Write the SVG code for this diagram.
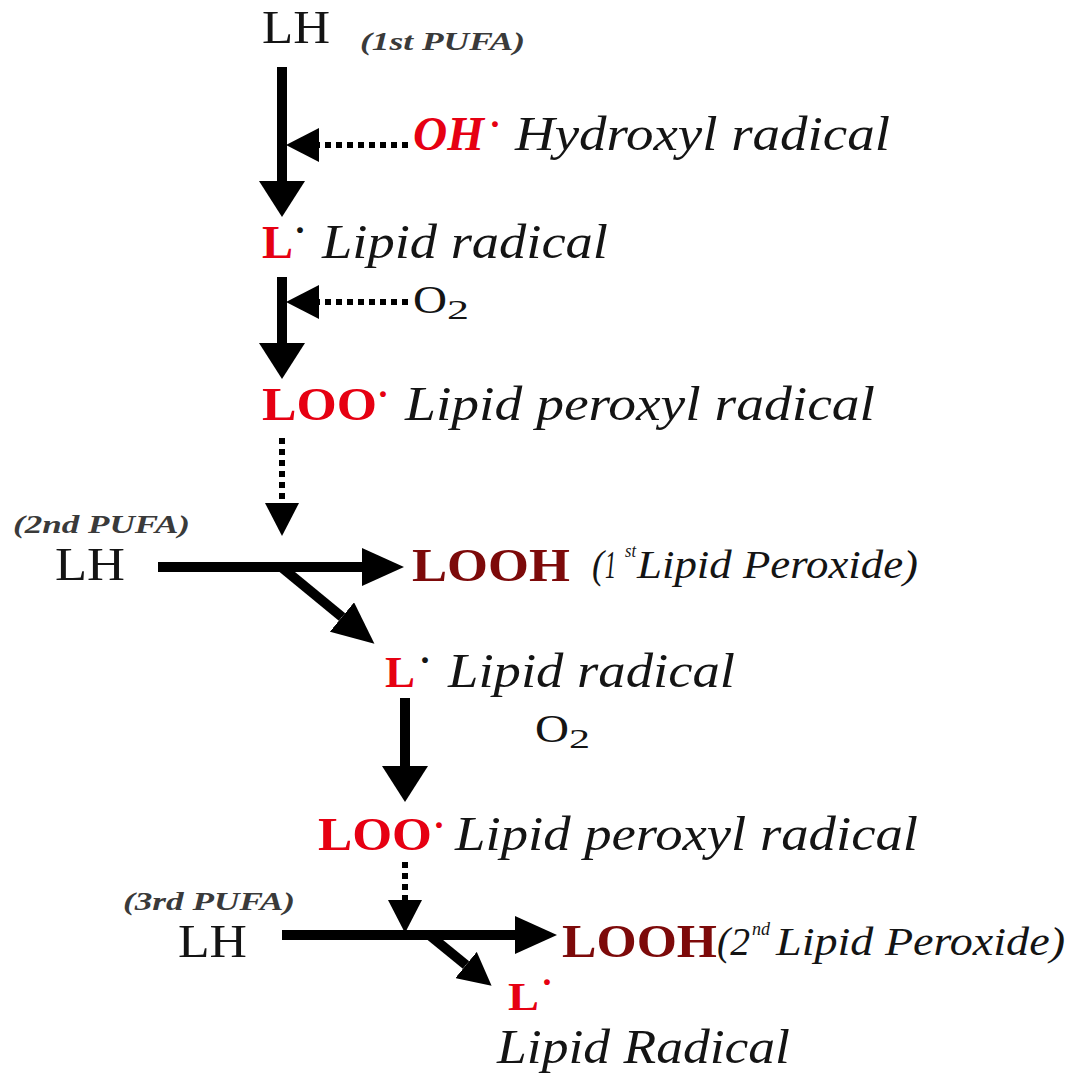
<svg xmlns="http://www.w3.org/2000/svg" width="1069" height="1075" viewBox="0 0 1069 1075">
<style>
text{font-family:"Liberation Serif","Times New Roman",serif}
.blk{fill:#141414}
.red{fill:#e60012;font-weight:bold}
.dred{fill:#7d0a0a;font-weight:bold}
.it{font-style:italic}
.pufa{font-size:26px;font-style:italic;font-weight:bold;fill:#3a3a3a}
.big{font-size:47px}
.lbl{font-size:48px;font-style:italic;fill:#141414}
.sub{font-size:40px;font-style:italic;fill:#141414}
.sup{font-size:18px}
.dot{font-size:36px;font-weight:bold;text-anchor:middle}
.solid{stroke:#000;stroke-width:10;fill:none}
.dotted{stroke:#000;stroke-width:6;stroke-dasharray:6 5;fill:none}
</style>
<defs>
<marker id="head" markerUnits="userSpaceOnUse" viewBox="0 0 36 46" refX="0" refY="23" markerWidth="36" markerHeight="46" orient="auto"><path d="M0,0 L36,23 L0,46 z" fill="#000"/></marker>
<marker id="headH" markerUnits="userSpaceOnUse" viewBox="0 0 42 38" refX="0" refY="19" markerWidth="42" markerHeight="38" orient="auto"><path d="M0,0 L42,19 L0,38 z" fill="#000"/></marker>
<marker id="headS" markerUnits="userSpaceOnUse" viewBox="0 0 33 34" refX="0" refY="17" markerWidth="33" markerHeight="34" orient="auto"><path d="M0,0 L33,17 L0,34 z" fill="#000"/></marker>
</defs>
<rect width="1069" height="1075" fill="#fff"/>

<g id="connectors">
<line class="solid" x1="282" y1="67" x2="282" y2="181" marker-end="url(#head)"/>
<line class="dotted" x1="408" y1="145" x2="319" y2="145" marker-end="url(#headS)"/>
<line class="solid" x1="282" y1="277" x2="282" y2="343" marker-end="url(#head)"/>
<line class="dotted" x1="408" y1="302" x2="319" y2="302" marker-end="url(#headS)"/>
<line class="dotted" x1="282" y1="438" x2="282" y2="503" marker-end="url(#headS)"/>
<line class="solid" x1="158" y1="567" x2="362" y2="567" marker-end="url(#headH)"/>
<line class="solid" x1="280" y1="566" x2="342" y2="617" marker-end="url(#headH)"/>
<line class="solid" x1="405" y1="698" x2="405" y2="766" marker-end="url(#head)"/>
<line class="dotted" x1="405" y1="862" x2="405" y2="900" marker-end="url(#headS)"/>
<line class="solid" x1="282" y1="935" x2="515" y2="935" marker-end="url(#headH)"/>
<line class="solid" x1="428" y1="934" x2="466" y2="965" marker-end="url(#headS)"/>
</g>

<g id="lh1">
<text class="blk big" x="262" y="43" textLength="68" lengthAdjust="spacingAndGlyphs">LH</text>
<text class="pufa" x="360" y="50" textLength="165" lengthAdjust="spacingAndGlyphs">(1st PUFA)</text>
</g>

<g id="oh">
<text class="red it" x="413" y="150" font-size="48" textLength="71" lengthAdjust="spacingAndGlyphs">OH</text>
<text class="red dot" x="495" y="136">·</text>
<text class="lbl" x="515" y="150" textLength="375" lengthAdjust="spacingAndGlyphs">Hydroxyl radical</text>
</g>

<g id="l1">
<text class="red" x="262" y="258" font-size="46" textLength="31" lengthAdjust="spacingAndGlyphs">L</text>
<text class="blk dot" x="300" y="242">·</text>
<text class="lbl" x="322" y="258" textLength="286" lengthAdjust="spacingAndGlyphs">Lipid radical</text>
</g>

<g id="o2a">
<text class="blk" x="413" y="313" font-size="40" textLength="34" lengthAdjust="spacingAndGlyphs">O</text>
<text class="blk" x="447" y="319" font-size="27" textLength="22" lengthAdjust="spacingAndGlyphs">2</text>
</g>

<g id="loo1">
<text class="red" x="262" y="420" font-size="47" textLength="115" lengthAdjust="spacingAndGlyphs">LOO</text>
<text class="red dot" x="383" y="406">·</text>
<text class="lbl" x="405" y="420" textLength="470" lengthAdjust="spacingAndGlyphs">Lipid peroxyl radical</text>
</g>

<g id="lh2">
<text class="pufa" x="13" y="533" textLength="177" lengthAdjust="spacingAndGlyphs">(2nd PUFA)</text>
<text class="blk big" x="55" y="580" textLength="70" lengthAdjust="spacingAndGlyphs">LH</text>
</g>

<g id="looh1">
<text class="dred" x="412" y="581" font-size="47" textLength="158" lengthAdjust="spacingAndGlyphs">LOOH</text>
<text class="sub"><tspan x="592" y="578" textLength="12" lengthAdjust="spacingAndGlyphs">(</tspan><tspan x="605" y="578" textLength="11" lengthAdjust="spacingAndGlyphs">1</tspan><tspan class="sup" x="625" y="557" textLength="11" lengthAdjust="spacingAndGlyphs">st</tspan><tspan x="637" y="578" textLength="281" lengthAdjust="spacingAndGlyphs">Lipid Peroxide)</tspan></text>
</g>

<g id="l2">
<text class="red" x="385" y="687" font-size="44" textLength="30" lengthAdjust="spacingAndGlyphs">L</text>
<text class="blk dot" x="425" y="672">·</text>
<text class="lbl" x="448" y="687" textLength="287" lengthAdjust="spacingAndGlyphs">Lipid radical</text>
</g>

<g id="o2b">
<text class="blk" x="535" y="742" font-size="40" textLength="34" lengthAdjust="spacingAndGlyphs">O</text>
<text class="blk" x="569" y="748" font-size="27" textLength="21" lengthAdjust="spacingAndGlyphs">2</text>
</g>

<g id="loo2">
<text class="red" x="318" y="850" font-size="47" textLength="114" lengthAdjust="spacingAndGlyphs">LOO</text>
<text class="red dot" x="439" y="837">·</text>
<text class="lbl" x="455" y="850" textLength="463" lengthAdjust="spacingAndGlyphs">Lipid peroxyl radical</text>
</g>

<g id="lh3">
<text class="pufa" x="123" y="910" textLength="172" lengthAdjust="spacingAndGlyphs">(3rd PUFA)</text>
<text class="blk big" x="178" y="957" textLength="69" lengthAdjust="spacingAndGlyphs">LH</text>
</g>

<g id="looh2">
<text class="dred" x="562" y="957" font-size="47" textLength="155" lengthAdjust="spacingAndGlyphs">LOOH</text>
<text class="sub"><tspan x="717" y="955" textLength="33" lengthAdjust="spacingAndGlyphs">(2</tspan><tspan class="sup" x="752" y="935" textLength="18" lengthAdjust="spacingAndGlyphs">nd</tspan><tspan x="776" y="955" textLength="289" lengthAdjust="spacingAndGlyphs">Lipid Peroxide)</tspan></text>
</g>

<g id="l3">
<text class="red" x="508" y="1010" font-size="40" textLength="31" lengthAdjust="spacingAndGlyphs">L</text>
<text class="red dot" x="547" y="994">·</text>
<text class="lbl" x="497" y="1063" textLength="293" lengthAdjust="spacingAndGlyphs">Lipid Radical</text>
</g>
</svg>
